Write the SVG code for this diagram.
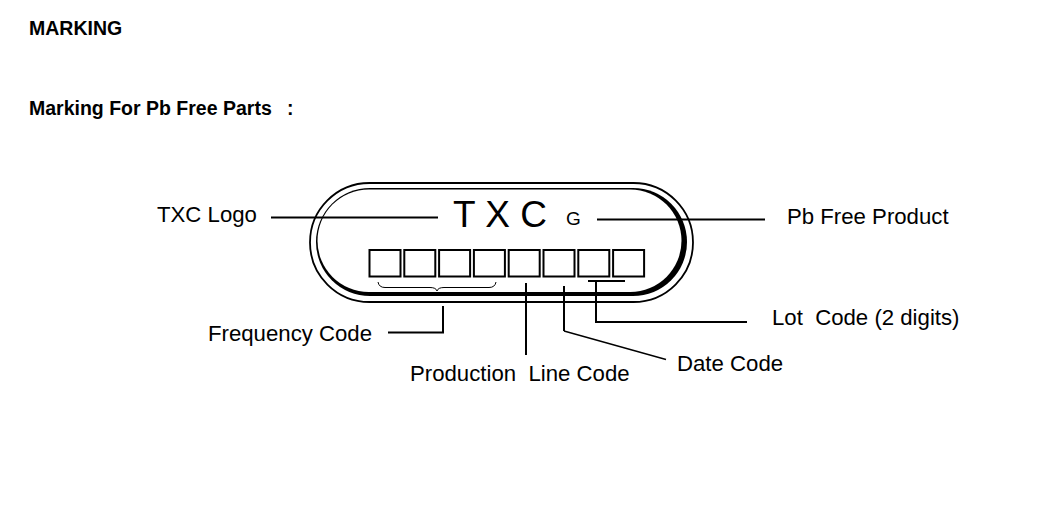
<svg xmlns="http://www.w3.org/2000/svg" width="1064" height="512" viewBox="0 0 1064 512">
<style>
.h{font-family:"Liberation Sans",Arial,sans-serif;font-weight:bold;font-size:19.5px;fill:#000}
.t{font-family:"Liberation Sans",Arial,sans-serif;font-size:22.2px;fill:#000;white-space:pre}
.ln{stroke:#000;stroke-width:2;fill:none}
.thin{stroke:#000;stroke-width:1.3;fill:none}
.box{stroke:#000;stroke-width:2;fill:#fff}
</style>
<rect width="1064" height="512" fill="#fff"/>
<text class="h" x="29" y="35">MARKING</text>
<text class="h" x="29" y="115">Marking For Pb Free Parts<tspan x="287">:</tspan></text>

<g id="chip">
<rect x="310" y="183" width="383" height="119" rx="59.5" fill="none" stroke="#000" stroke-width="1.8"/>
<rect x="316" y="188" width="371" height="108" rx="54" fill="#000"/>
<rect x="317.5" y="189.5" width="364" height="102.5" rx="51.25" fill="#fff"/>
<text x="453" y="227" font-family="'Liberation Sans',Arial,sans-serif" font-size="37" xml:space="preserve">T X C</text>
<text x="566" y="225" font-family="'Liberation Sans',Arial,sans-serif" font-size="19">G</text>
<rect class="box" x="369.5" y="250" width="31" height="26.5"/>
<rect class="box" x="404.3" y="250" width="31" height="26.5"/>
<rect class="box" x="439.1" y="250" width="31" height="26.5"/>
<rect class="box" x="473.9" y="250" width="31" height="26.5"/>
<rect class="box" x="508.7" y="250" width="31" height="26.5"/>
<rect class="box" x="543.5" y="250" width="31" height="26.5"/>
<rect class="box" x="578.3" y="250" width="31" height="26.5"/>
<rect class="box" x="613.1" y="250" width="31" height="26.5"/>
<path d="M378,282 Q379,287.5 385,287.5 L430,287.5 Q436,287.5 437,291 Q438,287.5 444,287.5 L489,287.5 Q495,287.5 496,282" fill="none" stroke="#000" stroke-width="1"/>
</g>

<g id="connectors">
<line class="ln" x1="271" y1="217.5" x2="438" y2="217.5"/>
<line class="ln" x1="597" y1="219.5" x2="765" y2="219.5"/>
<polyline class="ln" points="388,332.5 443,332.5 443,306"/>
<line class="ln" x1="526" y1="283" x2="526" y2="355"/>
<polyline class="ln" points="564,286 564,331"/>
<line class="thin" x1="564" y1="331" x2="666" y2="359.5"/>
<line class="ln" x1="588" y1="281" x2="625" y2="281"/>
<polyline class="ln" points="596,281 596,322 747,322"/>
</g>

<g id="labels">
<text class="t" x="157" y="222">TXC Logo</text>
<text class="t" x="787" y="224">Pb Free Product</text>
<text class="t" x="772" y="325" xml:space="preserve">Lot  Code (2 digits)</text>
<text class="t" x="208" y="341">Frequency Code</text>
<text class="t" x="410" y="381" xml:space="preserve">Production  Line Code</text>
<text class="t" x="677" y="371">Date Code</text>
</g>
</svg>
